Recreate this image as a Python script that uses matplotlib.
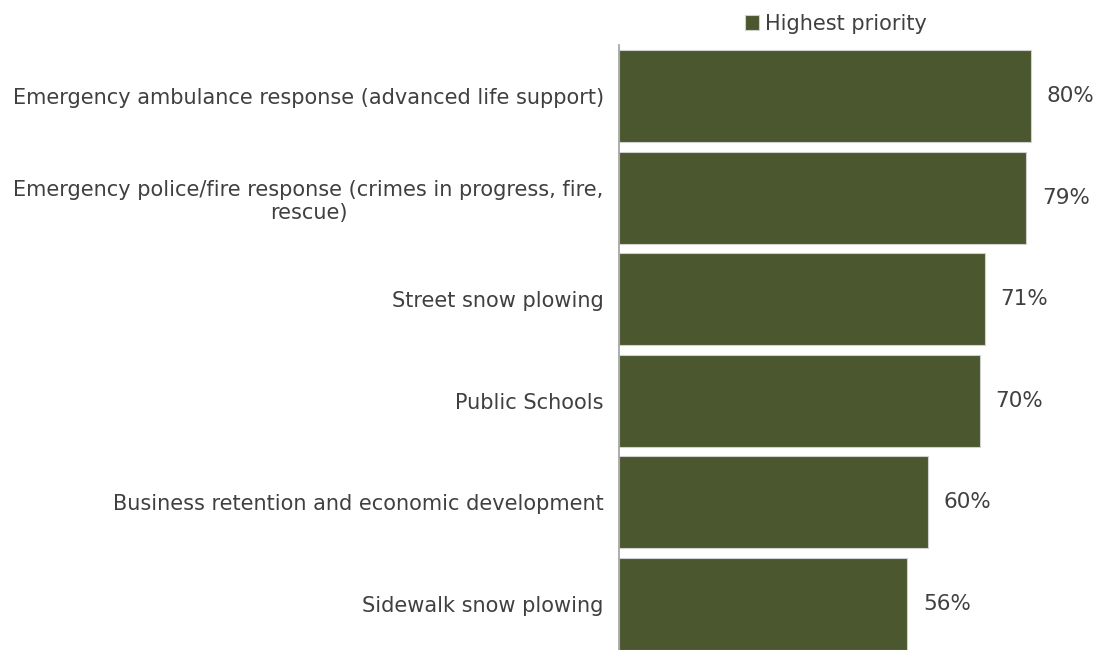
import numpy as np
import matplotlib.pyplot as plt

categorias = [
    "Emergency ambulance response (advanced life support)",
    "Emergency police/fire response (crimes in progress, fire,\nrescue)",
    "Street snow plowing",
    "Public Schools",
    "Business retention and economic development",
    "Sidewalk snow plowing",
]
valores = [80, 79, 71, 70, 60, 56]
serie = "Highest priority"

color_barra = "#4b572e"
color_texto = "#404040"

fig = plt.figure(figsize=(10.97, 6.5), dpi=100)
ax = fig.add_axes([619 / 1097, 0, 1 - 619 / 1097, 605 / 650])

y = np.arange(len(categorias))
barras = ax.barh(y, valores, height=0.905, color=color_barra,
                 edgecolor="#d0d0d0", linewidth=0.8, label=serie)

for yi, v in zip(y, valores):
    ax.text(v + 3.1, yi, f"{v}%", va="center", ha="left",
            fontsize=15.5, color=color_texto)

ax.set_xlim(0, 478 / 5.15)
ax.set_ylim(5.453, -0.502)
ax.set_yticks(y)
ax.set_yticklabels(categorias, fontsize=15, color=color_texto,
                   multialignment="center")
ax.tick_params(axis="y", length=0, pad=11)
ax.set_xticks([])
for lado in ["top", "right", "bottom"]:
    ax.spines[lado].set_visible(False)
ax.spines["left"].set_color("#a0a0a0")
ax.spines["left"].set_linewidth(1.2)

fig.legend(handles=[barras], labels=[serie], loc="center",
           bbox_to_anchor=(836 / 1097, 1 - 24 / 650), frameon=False,
           fontsize=15, handlelength=0.7, handleheight=0.7,
           handletextpad=0.3, labelcolor=color_texto)

fig.savefig("out.png", dpi=100)
